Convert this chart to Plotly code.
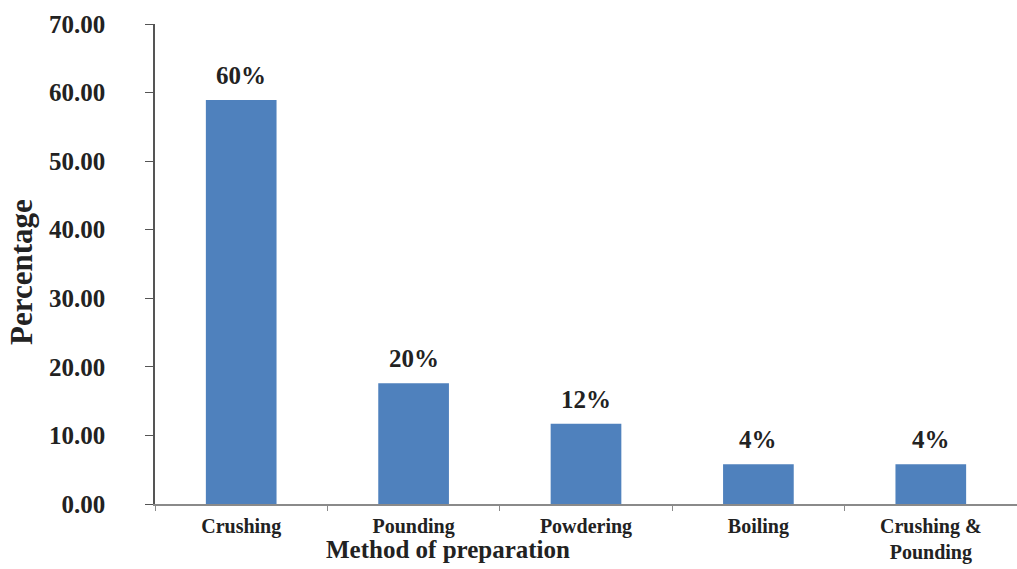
import plotly.graph_objects as go

categories = ["Crushing", "Pounding", "Powdering", "Boiling", "Crushing &<br>Pounding"]
values = [58.9, 17.6, 11.7, 5.8, 5.8]
labels = ["60%", "20%", "12%", "4%", "4%"]
y_ticks = [0, 10, 20, 30, 40, 50, 60, 70]
y_tick_text = ["%.2f" % v for v in y_ticks]

FONT = "Liberation Serif"
BAR = "#4F81BD"

fig = go.Figure()
fig.add_trace(go.Bar(x=categories, y=values, marker_color=BAR, width=0.41,
                     marker_line_width=0))

for c, v, t in zip(categories, values, labels):
    fig.add_annotation(x=c, y=v, text="<b>%s</b>" % t, showarrow=False,
                       yanchor="bottom", yshift=9,
                       font=dict(family=FONT, size=25, color="#222"))

fig.add_annotation(text="<b>Method of preparation</b>", xref="paper", yref="paper",
                   x=(448 - 155) / 862, y=-(549 - 504) / 480, showarrow=False,
                   xanchor="center", yanchor="middle",
                   font=dict(family=FONT, size=25, color="#222"))
fig.add_annotation(text="<b>Percentage</b>", xref="paper", yref="paper",
                   x=-(155 - 21) / 862, y=(504 - 272) / 480, showarrow=False,
                   textangle=-90, xanchor="center", yanchor="middle",
                   font=dict(family=FONT, size=31, color="#222"))

fig.update_layout(
    width=1017, height=569,
    margin=dict(l=155, r=0, t=24, b=65),
    paper_bgcolor="white", plot_bgcolor="white",
    showlegend=False, bargap=0.59,
    xaxis=dict(type="category", range=[-0.5, 4.5], showline=True, linecolor="#8a8a8a",
               linewidth=2, ticks="outside", tickson="boundaries", ticklen=5,
               tickcolor="#8a8a8a", showgrid=False, zeroline=False,
               tickfont=dict(family=FONT, size=20, color="#222"),
               tickprefix="<b>", ticksuffix="</b>", ticklabelstandoff=3),
    yaxis=dict(range=[0, 70], tickvals=y_ticks, ticktext=["<b>%s</b>" % s for s in y_tick_text],
               showline=True, linecolor="#555", linewidth=1.5, ticks="outside",
               ticklen=8, tickcolor="#555", showgrid=False, zeroline=False,
               tickfont=dict(family=FONT, size=25, color="#222"),
               ticklabelstandoff=35),
)

fig.write_html("out.html")
